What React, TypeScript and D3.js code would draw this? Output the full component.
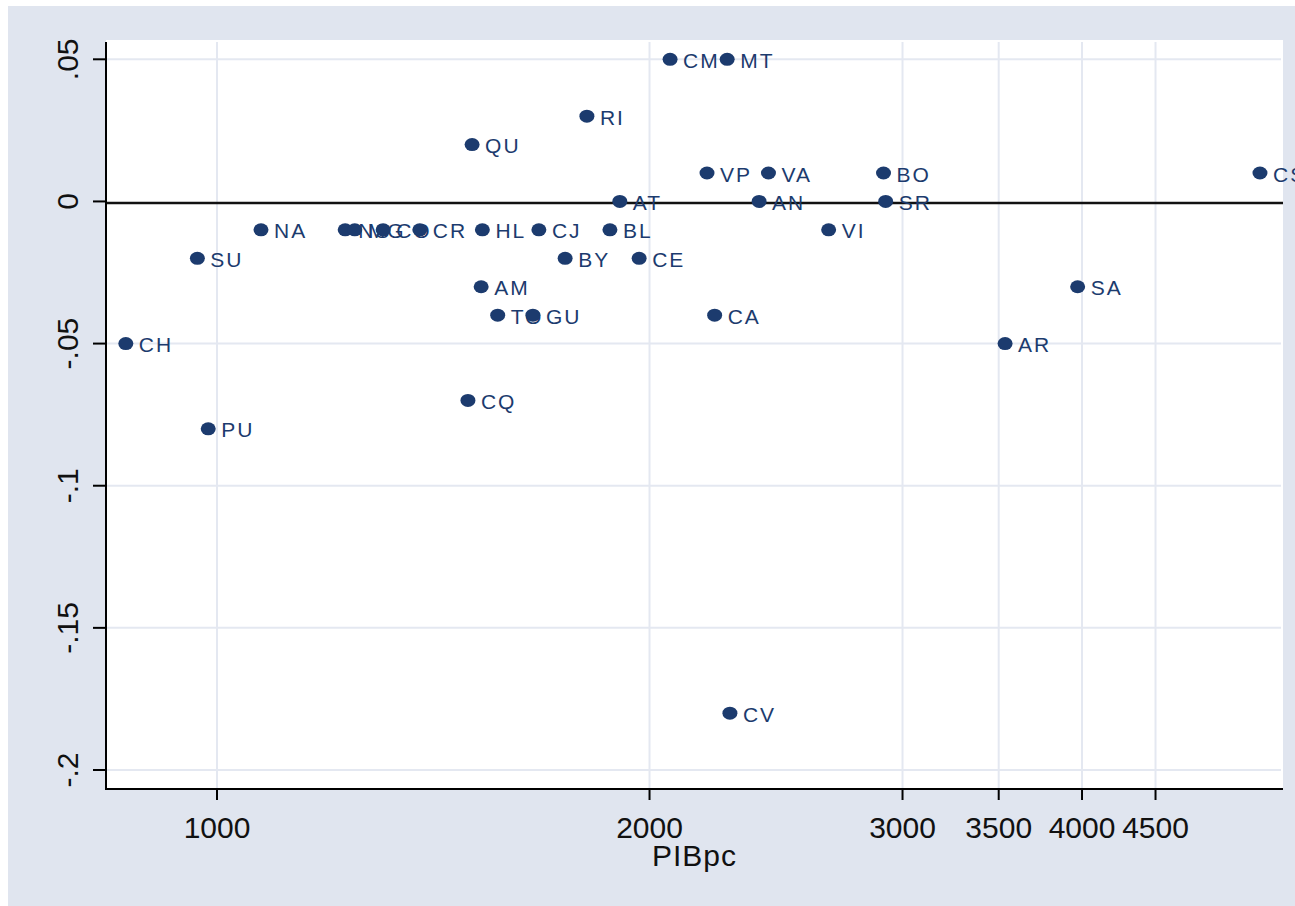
import React from "react";
import * as d3 from "d3";

// department codes, GDP per capita and residual
const codes = ["CH", "SU", "PU", "NA", "NS", "MG", "CO", "CR", "CQ", "QU", "AM", "HL", "TO", "GU", "CJ", "BY", "RI", "BL", "AT", "CE", "CM", "VP", "CA", "MT", "CV", "AN", "VA", "VI", "BO", "SR", "AR", "SA", "CS"];
const pibpc = [864, 969, 986, 1073, 1228, 1247, 1305, 1384, 1495, 1505, 1527, 1530, 1568, 1659, 1675, 1747, 1809, 1877, 1907, 1967, 2067, 2193, 2220, 2265, 2275, 2384, 2420, 2665, 2910, 2920, 3536, 3972, 5320];
const resid = [-0.05, -0.02, -0.08, -0.01, -0.01, -0.01, -0.01, -0.01, -0.07, 0.02, -0.03, -0.01, -0.04, -0.04, -0.01, -0.02, 0.03, -0.01, 0, -0.02, 0.05, 0.01, -0.04, 0.05, -0.18, 0, 0.01, -0.01, 0.01, 0, -0.05, -0.03, 0.01];

const xTicks = [1000, 2000, 3000, 3500, 4000, 4500];
const xTickLabels = ["1000", "2000", "3000", "3500", "4000", "4500"];
const yTicks = [0.05, 0, -0.05, -0.1, -0.15, -0.2];
const yTickLabels = [".05", "0", "-.05", "-.1", "-.15", "-.2"];

const width = 1295, height = 906;
const plot = {left: 106, right: 1283, top: 40, bottom: 789};
const bg = "#e0e5ef";
const grid = "#e4e8f1";
const navy = "#1c3b6e";
const font = "'Liberation Sans', Arial, sans-serif";

const App = () => {
    const x = d3.scaleLog().domain([837, 5520]).range([plot.left, plot.right]);
    const y = d3.scaleLinear().domain([-0.2, 0.05]).range([770, 59.3]);

    return (
        <svg width={width} height={height} style={{position: "absolute", left: 0, top: 0}}>
            <rect x={0} y={0} width={width} height={height} fill="#fff"/>
            <rect x={8} y={6} width={width - 8} height={height - 6} fill={bg}/>
            <rect x={plot.left} y={plot.top} width={plot.right - plot.left} height={plot.bottom - plot.top} fill="#fff"/>

            {/* grid */}
            {yTicks.filter(t => t !== 0).map(t => (
                <line key={"gy" + t} x1={plot.left} x2={plot.right - 2} y1={y(t)} y2={y(t)} stroke={grid} strokeWidth={2}/>
            ))}
            {xTicks.map(t => (
                <line key={"gx" + t} x1={x(t)} x2={x(t)} y1={plot.top + 2} y2={plot.bottom} stroke={grid} strokeWidth={2}/>
            ))}

            {/* zero line */}
            <line x1={plot.left} x2={plot.right} y1={y(0) + 1.5} y2={y(0) + 1.5} stroke="#111" strokeWidth={2.5}/>

            {/* axes */}
            <line x1={plot.left} x2={plot.left} y1={plot.top + 2} y2={plot.bottom + 1} stroke="#000" strokeWidth={2}/>
            <line x1={plot.left} x2={plot.right} y1={plot.bottom} y2={plot.bottom} stroke="#000" strokeWidth={2}/>
            {yTicks.map((t, i) => (
                <g key={"yt" + t}>
                    <line x1={plot.left - 13} x2={plot.left} y1={y(t)} y2={y(t)} stroke="#000" strokeWidth={2}/>
                    <text transform={`translate(78,${y(t)}) rotate(-90)`} textAnchor="middle"
                          fontFamily={font} fontSize={30} fill="#111">{yTickLabels[i]}</text>
                </g>
            ))}
            {xTicks.map((t, i) => (
                <g key={"xt" + t}>
                    <line x1={x(t)} x2={x(t)} y1={plot.bottom} y2={plot.bottom + 11} stroke="#000" strokeWidth={2}/>
                    <text x={x(t)} y={838} textAnchor="middle" fontFamily={font} fontSize={30} fill="#111">{xTickLabels[i]}</text>
                </g>
            ))}
            <text x={(plot.left + plot.right) / 2} y={866} textAnchor="middle" fontFamily={font} fontSize={30}
                  letterSpacing={1} fill="#111">PIBpc</text>

            {/* points and labels */}
            {codes.map((c, i) => (
                <ellipse key={c} cx={x(pibpc[i])} cy={y(resid[i])} rx={7.5} ry={6.5} fill={navy}/>
            ))}
            {codes.map((c, i) => (
                <text key={"l" + c} x={x(pibpc[i]) + 13} y={y(resid[i]) + 8.5} fontFamily={font} fontSize={21}
                      letterSpacing={2} fill={navy}>{c}</text>
            ))}
        </svg>
    );
};

export default App;
